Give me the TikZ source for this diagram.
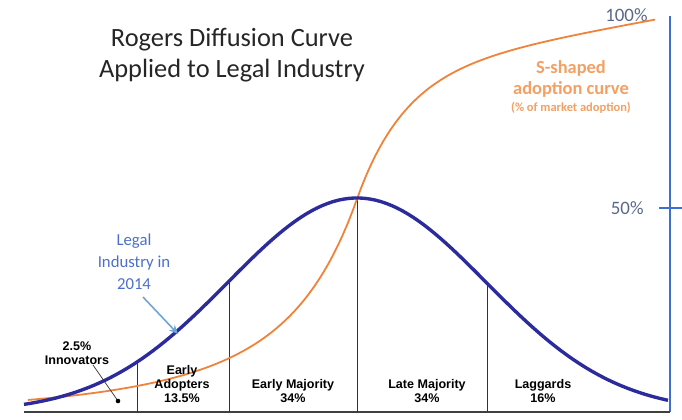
\documentclass[tikz,border=0pt]{standalone}
\usepackage{fontspec}
\usetikzlibrary{arrows.meta}
\setmainfont{Carlito}
\newfontfamily\arialfont{Liberation Sans}
\definecolor{bellblue}{HTML}{2B2B9C}
\definecolor{sorange}{HTML}{F0823A}
\definecolor{lorange}{HTML}{F3A064}
\definecolor{axisblue}{HTML}{3B6FD3}
\definecolor{legalblue}{HTML}{4D6FCB}
\definecolor{arrowblue}{HTML}{6FA5D6}
\definecolor{pctgray}{HTML}{5A6888}
\tikzset{
  seg/.style={font=\arialfont\bfseries\fontsize{12.6}{14}\selectfont,align=center,anchor=south},
  pct/.style={font=\fontsize{19}{19}\selectfont,text=pctgray,anchor=east}
}
\begin{document}
\begin{tikzpicture}[x=1bp,y=-1bp,inner sep=0pt,thick]
\useasboundingbox (0,0) rectangle (682,419);
% title
\node (title) at (232,55) [font=\fontsize{26.5}{31}\selectfont,align=center,text=black!85] {Rogers Diffusion Curve\\Applied to Legal Industry};
% axis on the right
\coordinate (ax top) at (670,16);
\coordinate (ax bot) at (670,412);
\draw[axisblue,line width=2.2pt] (ax top) -- (ax bot);
\draw[axisblue,line width=1.6pt] (659,208) -- (682,208);
\node (p100) at (648,15) [pct] {100\%};
\node (p50) at (644,208) [pct] {50\%};
% base line
\coordinate (base l) at (24,412);
\draw[black!75,line width=1.2pt] (base l) -- (ax bot);
% segment dividers
\foreach \xd in {137,229,357,487}
  \draw[black!80,line width=0.9pt] (\xd,412) -- (\xd,{412-214*exp(-((\xd-357)/129)^2/2)});
% s-shaped adoption curve
\draw[sorange,line width=1.8pt] plot[domain=28:357,samples=70] (\x,{412-106*exp((\x-357)/50)-107*exp((\x-357)/150)})
  -- plot[domain=357:655,samples=80] (\x,{199-126*(1-exp(-(\x-357)/48))-0.18*(\x-357)});
% bell curve
\draw[bellblue,line width=3.4pt] plot[domain=24:668,samples=120] (\x,{412-214*exp(-((\x-357)/129)^2/2)});
% labels
\node (scurve) at (571,79) [font=\bfseries\fontsize{18.5}{22}\selectfont,text=lorange,align=center] {S-shaped\\adoption curve};
\node (market) at (571,108) [font=\bfseries\fontsize{12.5}{13}\selectfont,text=lorange] {(\% of market adoption)};
\node (legal) at (134,262) [font=\fontsize{16.8}{22}\selectfont,text=legalblue,align=center] {Legal\\Industry in\\2014};
\draw[arrowblue,line width=1.6pt,-{Stealth[length=9pt,width=8pt]}] (143,297) -- (178,334);
\node (innov) at (77,353) [seg,anchor=center] {2.5\%\\Innovators};
\coordinate (dot) at (118,401);
\draw[black!80,line width=0.7pt] (93,365) -- (dot);
\fill (dot) circle (2.3);
\node (early) at (182,403) [seg] {Early\\Adopters\\13.5\%};
\node (emaj) at (293,403) [seg] {Early Majority\\34\%};
\node (lmaj) at (427,403) [seg] {Late Majority\\34\%};
\node (lagg) at (543,403) [seg] {Laggards\\16\%};
\end{tikzpicture}
\end{document}
